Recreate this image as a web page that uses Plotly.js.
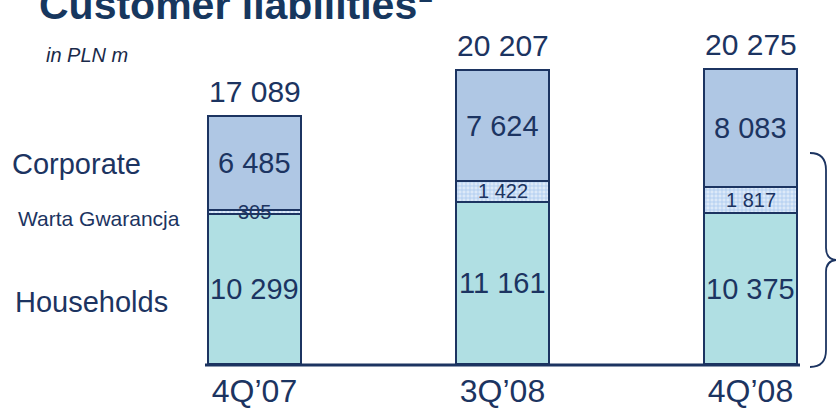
<!DOCTYPE html>
<html>
<head>
<meta charset="utf-8">
<script src="https://cdn.plot.ly/plotly-3.0.1.min.js"></script>
<style>html,body{margin:0;padding:0;background:#fff;}#chart{width:836px;height:411px;}</style>
</head>
<body>
<div id="chart"></div>
<script>
const categories = ['4Q’07', '3Q’08', '4Q’08'];
const households = [10299, 11161, 10375];
const warta = [305, 1422, 1817];
const corporate = [6485, 7624, 8083];
const totals = [17089, 20207, 20275];
const seriesNames = ['Households', 'Warta Gwarancja', 'Corporate'];

const W = 836, H = 411, B = 47, PH = H - B;
const navy = '#1c3461';
const font = 'Liberation Sans, Arial, sans-serif';
const px = x => x / W;
const py = y => (PH - y) / PH;
const fmt = v => v.toString().replace(/\B(?=(\d{3})+(?!\d))/g, ' ');
const BW = 0.375;

const outline = {color: navy, width: 2};
const traces = [
  {type: 'bar', name: seriesNames[0], x: categories, y: households, width: BW,
   marker: {color: '#b0dfe3', line: outline}, hoverinfo: 'skip'},
  {type: 'bar', name: seriesNames[1], x: categories, y: warta, width: BW,
   marker: {color: '#d6e6f7', line: outline,
            pattern: {shape: '+', fgcolor: '#a9c9ee', bgcolor: '#dce9f8', size: 4, solidity: 0.35}}, hoverinfo: 'skip'},
  {type: 'bar', name: seriesNames[2], x: categories, y: corporate, width: BW,
   marker: {color: '#afc7e4', line: outline}, hoverinfo: 'skip'}
];

const ann = [];
categories.forEach((c, i) => {
  const h = households[i], w = warta[i], k = corporate[i];
  ann.push({x: i, y: h / 2, xref: 'x', yref: 'y', text: fmt(h), showarrow: false,
            font: {family: font, size: 29, color: navy}});
  ann.push({x: i, y: h + w / 2, xref: 'x', yref: 'y', text: fmt(w), showarrow: false,
            font: {family: font, size: 20, color: navy}});
  ann.push({x: i, y: h + w + k / 2, xref: 'x', yref: 'y', text: fmt(k), showarrow: false,
            font: {family: font, size: 29, color: navy}});
  ann.push({x: i, y: totals[i], xref: 'x', yref: 'y', text: fmt(totals[i]), showarrow: false,
            yanchor: 'bottom', yshift: 6, font: {family: font, size: 30, color: navy}});
});
ann.push({x: px(37), y: py(2), xref: 'paper', yref: 'paper', xanchor: 'left', yanchor: 'middle',
          text: '<b>Customer liabilities</b><sup>1</sup>', showarrow: false,
          font: {family: font, size: 41, color: '#17375e'}});
ann.push({x: px(44), y: py(55), xref: 'paper', yref: 'paper', xanchor: 'left', yanchor: 'middle',
          text: '<i>in PLN m</i>', showarrow: false, font: {family: font, size: 20, color: '#1a2a4a'}});
ann.push({x: px(10), y: py(164), xref: 'paper', yref: 'paper', xanchor: 'left', yanchor: 'middle',
          text: 'Corporate', showarrow: false, font: {family: font, size: 29, color: navy}});
ann.push({x: px(16), y: py(218), xref: 'paper', yref: 'paper', xanchor: 'left', yanchor: 'middle',
          text: 'Warta Gwarancja', showarrow: false, font: {family: font, size: 21, color: navy}});
ann.push({x: px(13), y: py(302), xref: 'paper', yref: 'paper', xanchor: 'left', yanchor: 'middle',
          text: 'Households', showarrow: false, font: {family: font, size: 29, color: navy}});

const P = (x, y) => px(x).toFixed(5) + ',' + py(y).toFixed(5);
const brace = 'M' + P(810, 153) + ' Q' + P(826, 153) + ' ' + P(826, 170) +
  ' L' + P(826, 248) + ' Q' + P(826, 259) + ' ' + P(836, 260) +
  ' Q' + P(826, 261) + ' ' + P(826, 272) + ' L' + P(826, 350) +
  ' Q' + P(826, 367) + ' ' + P(810, 367);

const layout = {
  width: W, height: H, margin: {l: 0, r: 0, t: 0, b: B},
  paper_bgcolor: '#fff', plot_bgcolor: '#fff', showlegend: false, barmode: 'stack',
  xaxis: {type: 'category', range: [-254.5 / 248, (W - 254.5) / 248], showgrid: false, zeroline: false,
          showline: false, ticks: '', ticklabelstandoff: 5,
          tickfont: {family: font, size: 32, color: navy}},
  yaxis: {range: [0, 25050], visible: false, fixedrange: true},
  annotations: ann,
  shapes: [
    {type: 'line', xref: 'paper', yref: 'paper', x0: px(205), x1: px(800), y0: py(365), y1: py(365),
     line: {color: navy, width: 3}},
    {type: 'path', xref: 'paper', yref: 'paper', path: brace, line: {color: navy, width: 1.8}}
  ]
};
Plotly.newPlot('chart', traces, layout, {staticPlot: true, displayModeBar: false});
</script>
</body>
</html>
